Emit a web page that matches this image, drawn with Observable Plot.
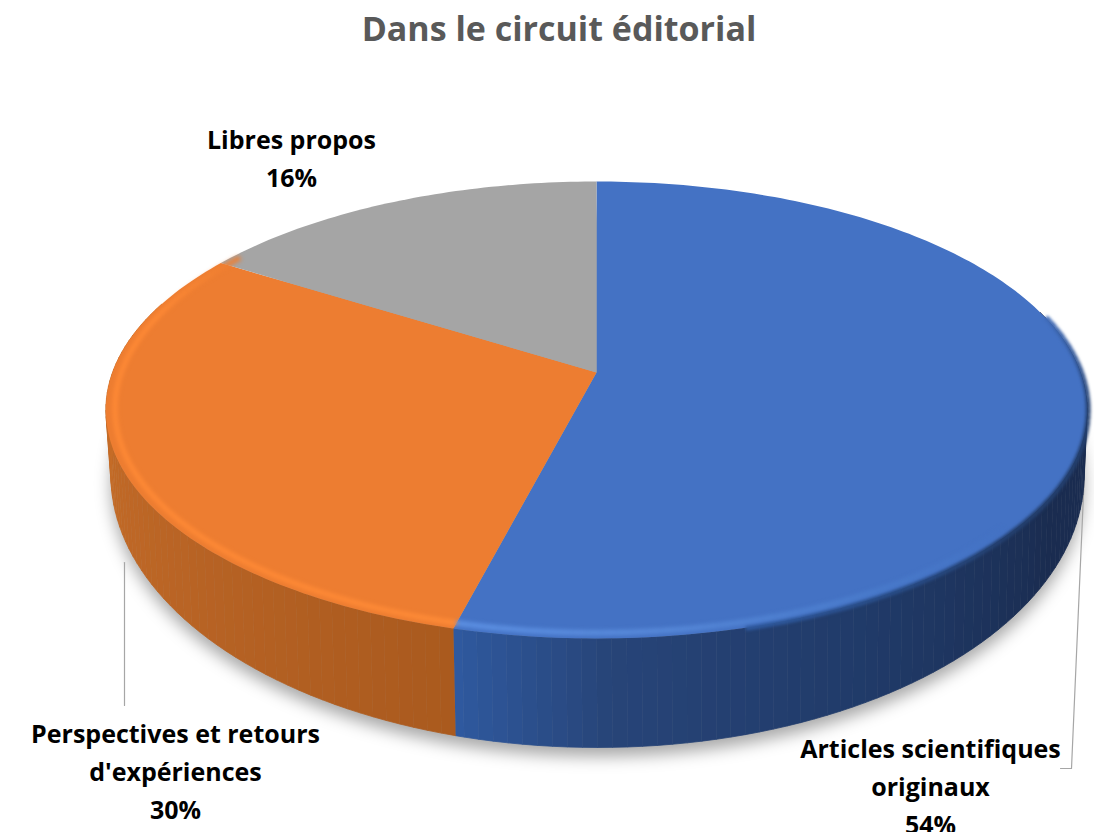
<!DOCTYPE html>
<html lang="fr">
<head>
<meta charset="utf-8">
<script src="https://cdn.jsdelivr.net/npm/d3@7"></script>
<script src="https://cdn.jsdelivr.net/npm/@observablehq/plot@0.6"></script>
<style>
html,body{margin:0;padding:0;background:#fff;}
#title{height:56px;line-height:56px;text-align:center;font:700 34px/56px "Open Sans",sans-serif;color:#595959;padding-right:0;width:1118px;}
svg{display:block;}
</style>
</head>
<body>
<div id="title">Dans le circuit éditorial</div>
<div id="chart"></div>
<script>
// Data
const categories = ["Articles scientifiques originaux", "Perspectives et retours d'expériences", "Libres propos"];
const shares = [54, 30, 16];
const labelLines = ["Articles scientifiques\noriginaux\n54%", "Perspectives et retours\nd'expériences\n30%", "Libres propos\n16%"];
const faceColors = ["#4472c4", "#ed7d31", "#a5a5a5"];

// Layout (screen geometry of the tilted disc)
const W = 1094, H = 832, TOP = 56;
const tilt = 0.164;
const topDisc = {cx: 596, cy: 372, a: 222.3, b: 484};
const baseDisc = {cx: 597, cy: 430, a: 265, b: 480};
const labelAt = [{x: 930, y: 783}, {x: 175, y: 768}, {x: 291, y: 155}];

const rad = d => d * Math.PI / 180;
const project = (disc, deg, r = 1) => {
  const u = Math.sin(rad(deg)) * r, v = Math.cos(rad(deg)) * r, w = 1 + tilt * v;
  return {x: disc.cx + disc.b * u / w, y: disc.cy - disc.a * v / w};
};
const range = (a, b, step) => { const o = []; for (let t = a; t < b; t += step) o.push(t); o.push(b); return o; };

const arcs = d3.pie().sort(null).startAngle(0).endAngle(2 * Math.PI)(shares)
  .map((p, i) => ({i, from: p.startAngle * 180 / Math.PI, to: p.endAngle * 180 / Math.PI}));

// Side wall shading by angle
const blueSide = d3.scaleLinear().domain([194, 178, 150, 120, 90]).range(["#2f5aa0", "#274478", "#203a68", "#1a2c50", "#1a2c50"]);
const orangeSide = d3.scaleLinear().domain([194, 230, 262, 290]).range(["#aa5a1e", "#b96425", "#c56c27", "#cc7029"]);
const greySide = () => "#7a7a7a";
const sideShade = [blueSide, orangeSide, greySide];

const sideRows = [];
arcs.forEach(arc => {
  const ts = range(arc.from, arc.to, 1.5);
  ts.slice(1).forEach((t, j) => {
    const t0 = ts[j];
    if (Math.cos(rad(t0)) > 0.3) return;
    const color = sideShade[arc.i](t0);
    const key = `s${arc.i}-${j}`;
    [project(topDisc, t0), project(topDisc, t), project(baseDisc, t), project(baseDisc, t0)]
      .forEach(p => sideRows.push({...p, key, color}));
  });
});

const faceRows = [];
arcs.forEach(arc => {
  const color = faceColors[arc.i];
  faceRows.push({...project(topDisc, 0, 0), key: `f${arc.i}`, color});
  range(arc.from, arc.to, 1).forEach(t => faceRows.push({...project(topDisc, t), key: `f${arc.i}`, color}));
});

const shadowRows = range(0, 360, 2).map(t => ({...project(baseDisc, t), key: "shadow"}));

// Bevel along the near rim
const bevelBlue = d3.scaleLinear().domain([194, 175, 150, 130]).range(["#5f93e6", "#5a8cdc", "#4a7ccc", "#4472c4"]).clamp(true);
const bevelOrange = d3.scaleLinear().domain([194, 210, 285, 305]).range(["#ff8c38", "#ff8a36", "#ff8a36", "#ed7d31"]).clamp(true);
const bevelRows = [];
[[0, 130, 194.4, bevelBlue], [1, 194.4, 305, bevelOrange]].forEach(([i, a, b, shade]) => {
  const ts = range(a, b, 1.5);
  ts.slice(1).forEach((t, j) => {
    [ts[j], t].forEach(q => bevelRows.push({...project(topDisc, q, 0.982), key: `b${i}-${j}`, color: shade(ts[j])}));
  });
});
const darkEdge = d3.scaleLinear().domain([70, 100, 130, 165]).range(["#4472c4", "#24406f", "#24406f", "#2f5aa0"]).clamp(true);
const edgeRows = [];
const ets = range(75, 165, 1.5);
ets.slice(1).forEach((t, j) => {
  [ets[j], t].forEach(q => edgeRows.push({...project(topDisc, q, 1.002), key: `e${j}`, color: darkEdge(ets[j])}));
});

const leaderRows = [
  {x: 1087, y: 402, key: "a"}, {x: 1071, y: 768, key: "a"}, {x: 1060, y: 768, key: "a"},
  {x: 124, y: 562, key: "p"}, {x: 124, y: 705, key: "p"}
];
const labels = labelLines.map((text, i) => ({text, ...labelAt[i], category: categories[i]}));

const plot = Plot.plot({
  width: W, height: H - TOP, margin: 0,
  x: {domain: [0, W], range: [0, W], axis: null},
  y: {domain: [H, TOP], range: [H - TOP, 0], axis: null},
  color: {type: "identity"},
  style: {background: "#fff"},
  marks: [
    Plot.line(shadowRows, {x: "x", y: d => d.y + 9, z: "key", fill: "#000", fillOpacity: 0.34, stroke: "none", imageFilter: "blur(8px)"}),
    Plot.line(leaderRows, {x: "x", y: "y", z: "key", stroke: "#a6a6a6", strokeWidth: 1.2}),
    Plot.line(sideRows, {x: "x", y: "y", z: "key", fill: "color", stroke: "color", strokeWidth: 0.8}),
    Plot.line(faceRows, {x: "x", y: "y", z: "key", fill: "color", stroke: "none"}),
    Plot.line(edgeRows, {x: "x", y: "y", z: "key", stroke: "color", strokeWidth: 5, strokeLinecap: "butt", imageFilter: "blur(1.5px)"}),
    Plot.line(bevelRows, {x: "x", y: "y", z: "key", stroke: "color", strokeWidth: 5, strokeLinecap: "butt", imageFilter: "blur(2px)"}),
    Plot.text(labels, {x: "x", y: "y", text: "text", textAnchor: "middle", lineHeight: 1.53, fontSize: 25, fontWeight: 700, fontFamily: "Open Sans", fill: "#000"})
  ]
});
document.getElementById("chart").append(plot);
</script>
</body>
</html>
